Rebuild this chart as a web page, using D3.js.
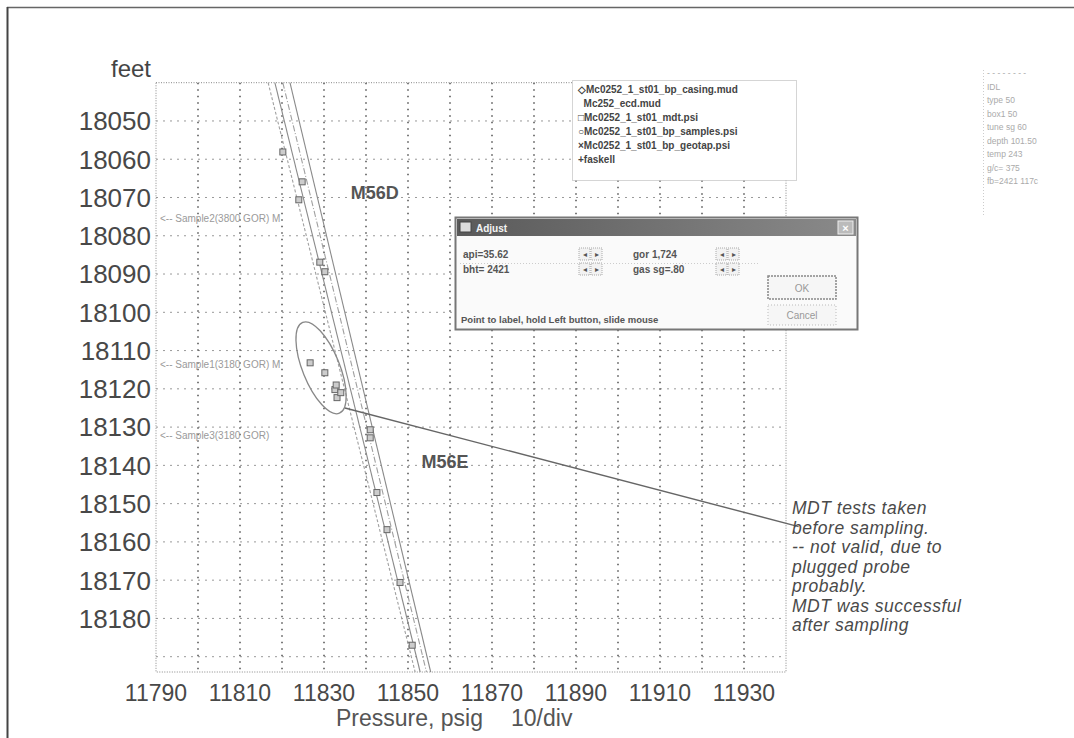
<!DOCTYPE html>
<html>
<head>
<meta charset="utf-8">
<script src="https://cdn.jsdelivr.net/npm/d3@7"></script>
<style>
  body { margin: 0; background: #fff; }
  svg { display: block; font-family: "Liberation Sans", Arial, sans-serif; }
</style>
</head>
<body>
<div id="chart-container"></div>
<script>
// Configuration
const width = 1074;
const height = 738;

// --- Data ---
const xTicks = [11790, 11810, 11830, 11850, 11870, 11890, 11910, 11930];
const yTicks = [18050, 18060, 18070, 18080, 18090, 18100, 18110, 18120, 18130, 18140, 18150, 18160, 18170, 18180];

// gradient lines: pressure at top (18040 ft) and bottom (18194 ft)
const gradTop = [11816.7, 11818.3, 11820.2, 11821.9];
const gradBottom = [11851.7, 11852.9, 11854.4, 11855.4];
const gradDepths = [18040, 18194];

// MDT pressure points
const mdtPressure = [11820.2, 11824.8, 11824.0, 11829.0, 11830.2, 11826.7, 11830.2, 11832.6, 11833.1, 11832.9, 11834.0, 11841.0, 11841.0, 11842.6, 11845.0, 11848.1, 11851.0];
const mdtDepth = [18058.1, 18065.9, 18070.6, 18086.9, 18089.4, 18113.2, 18115.8, 18120.2, 18122.3, 18119.0, 18121.0, 18130.7, 18132.8, 18147.1, 18156.8, 18170.6, 18187.0];

// samples
const sampleLabels = ["<-- Sample2(3800 GOR) M", "<-- Sample1(3180 GOR) M", "<-- Sample3(3180 GOR)"];
const sampleDepth = [18075.4, 18113.7, 18132.2];

// formation labels
const zoneNames = ["M56D", "M56E"];
const zonePressure = [11842.1, 11858.8];
const zoneDepth = [18068.6, 18139.0];

// ellipse around sample 1 points (centre, half-widths in psi / ft)
const ellipseCentre = [11829.3, 18114.5];
const ellipseHalf = [4.4, 12.8];

// annotation leader
const leaderPressure = [11835.0, 11943.0];
const leaderDepth = [18125.0, 18156.0];

const noteLines = ["MDT tests taken", "before sampling.", "-- not valid, due to", "plugged probe", "probably.", "MDT was successful", "after sampling"];

const legendItems = ["\u25C7Mc0252_1_st01_bp_casing.mud", "  Mc252_ecd.mud", "\u25A1Mc0252_1_st01_mdt.psi", "\u25CBMc0252_1_st01_bp_samples.psi", "\u00D7Mc0252_1_st01_bp_geotap.psi", "+faskell"];

const sideText = ["- - - - - - - -", "IDL", "type 50", "box1 50", "tune sg 60", "depth 101.50", "temp 243", "g/c= 375", "fb=2421 117c"];

// dialog fields
const dialogFields = [["api=35.62", "gor 1,724"], ["bht= 2421", "gas sg=.80"]];

const svg = d3.select("#chart-container")
    .append("svg")
    .attr("width", width)
    .attr("height", height);

const x = d3.scaleLinear().domain([11790, 11940]).range([156, 786]);
const y = d3.scaleLinear().domain([18040, 18194]).range([82.7, 672]);

// outer frame
svg.append("line").attr("x1", 7).attr("x2", width).attr("y1", 7.5).attr("y2", 7.5)
    .attr("stroke", "#666").attr("stroke-width", 1.5);
svg.append("line").attr("x1", 7.5).attr("x2", 7.5).attr("y1", 7).attr("y2", height)
    .attr("stroke", "#444").attr("stroke-width", 2);

const g = svg.append("g");

// --- grid ---
const xGrid = d3.range(11800, 11940, 10);
const yGrid = d3.range(18050, 18194, 10);

g.append("g").selectAll("line").data(yGrid).join("line")
    .attr("x1", x(11790)).attr("x2", x(11940))
    .attr("y1", d => y(d)).attr("y2", d => y(d))
    .attr("stroke", "#999").attr("stroke-width", 1)
    .attr("stroke-dasharray", "2,5");

g.append("g").selectAll("line").data(xGrid).join("line")
    .attr("x1", d => x(d)).attr("x2", d => x(d))
    .attr("y1", y(18040)).attr("y2", y(18194))
    .attr("stroke", "#444").attr("stroke-width", 1.4)
    .attr("stroke-dasharray", "1.5,5");

// plot border
g.append("rect")
    .attr("x", x(11790)).attr("y", y(18040))
    .attr("width", x(11940) - x(11790)).attr("height", y(18194) - y(18040))
    .attr("fill", "none").attr("stroke", "#888").attr("stroke-width", 1)
    .attr("stroke-dasharray", "1,1.5");

// --- axes labels ---
g.append("g").selectAll("text").data(yTicks).join("text")
    .attr("x", 151).attr("y", d => y(d))
    .attr("dy", "0.36em")
    .attr("text-anchor", "end")
    .attr("font-size", 26)
    .attr("fill", "#484848")
    .text(d => d);

g.append("g").selectAll("text").data(xTicks).join("text")
    .attr("x", d => x(d)).attr("y", 701)
    .attr("text-anchor", "middle")
    .attr("font-size", 23)
    .attr("fill", "#484848")
    .text(d => d);

svg.append("text").attr("x", 151).attr("y", 77).attr("text-anchor", "end")
    .attr("font-size", 24).attr("fill", "#444").text("feet");

svg.append("text").attr("x", 336).attr("y", 726)
    .attr("font-size", 23).attr("fill", "#555")
    .text("Pressure, psig")
    .append("tspan").attr("dx", 28).text("10/div");

// --- gradient lines ---
const gradStyles = ["3,2", null, "6,2,1,2", null];
gradTop.forEach((p, i) => {
    g.append("line")
        .attr("x1", x(p)).attr("y1", y(gradDepths[0]))
        .attr("x2", x(gradBottom[i])).attr("y2", y(gradDepths[1]))
        .attr("stroke", i % 2 ? "#8a8a8a" : "#a0a0a0")
        .attr("stroke-width", 1.1)
        .attr("stroke-dasharray", gradStyles[i]);
});

// ellipse
g.append("ellipse")
    .attr("cx", x(ellipseCentre[0])).attr("cy", y(ellipseCentre[1]))
    .attr("rx", x(ellipseCentre[0] + ellipseHalf[0]) - x(ellipseCentre[0]))
    .attr("ry", y(ellipseCentre[1] + ellipseHalf[1]) - y(ellipseCentre[1]))
    .attr("transform", `rotate(-22 ${x(ellipseCentre[0])} ${y(ellipseCentre[1])})`)
    .attr("fill", "none").attr("stroke", "#888").attr("stroke-width", 1.3);

// MDT points
g.append("g").selectAll("rect").data(mdtPressure).join("rect")
    .attr("x", (d, i) => x(d) - 3).attr("y", (d, i) => y(mdtDepth[i]) - 3)
    .attr("width", 6).attr("height", 6)
    .attr("fill", "#ccc").attr("stroke", "#666").attr("stroke-width", 1);

// leader line
g.append("line")
    .attr("x1", x(leaderPressure[0])).attr("y1", y(leaderDepth[0]))
    .attr("x2", x(leaderPressure[1])).attr("y2", y(leaderDepth[1]))
    .attr("stroke", "#666").attr("stroke-width", 1.4);

// sample labels
g.append("g").selectAll("text").data(sampleLabels).join("text")
    .attr("x", x(11790) + 4).attr("y", (d, i) => y(sampleDepth[i]))
    .attr("dy", "0.35em")
    .attr("font-size", 10).attr("fill", "#9a9a9a")
    .text(d => d);

// formation labels
g.append("g").selectAll("text").data(zoneNames).join("text")
    .attr("x", (d, i) => x(zonePressure[i])).attr("y", (d, i) => y(zoneDepth[i]))
    .attr("dy", "0.36em").attr("text-anchor", "middle")
    .attr("font-size", 18).attr("font-weight", "bold").attr("fill", "#555")
    .text(d => d);

// note text
g.append("g").selectAll("text").data(noteLines).join("text")
    .attr("x", 792).attr("y", (d, i) => 514 + i * 19.5)
    .attr("font-size", 17.5).attr("font-style", "italic").attr("fill", "#4a4a4a")
    .attr("letter-spacing", 0.5)
    .text(d => d);

// legend box
const lg = svg.append("g");
lg.append("rect").attr("x", 572.5).attr("y", 80.5).attr("width", 224).attr("height", 100)
    .attr("fill", "#fff").attr("stroke", "#aaa").attr("stroke-dasharray", "1,1");
lg.selectAll("text").data(legendItems).join("text")
    .attr("x", 578).attr("y", (d, i) => 93 + i * 14)
    .attr("font-size", 10).attr("font-weight", "bold").attr("fill", "#444")
    .attr("xml:space", "preserve")
    .text(d => d);

// side text
svg.append("line").attr("x1", 983.5).attr("x2", 983.5).attr("y1", 70).attr("y2", 215)
    .attr("stroke", "#ccc").attr("stroke-dasharray", "1,2");
svg.append("g").selectAll("text").data(sideText).join("text")
    .attr("x", 987).attr("y", (d, i) => 76 + i * 13.5)
    .attr("font-size", 8.5).attr("fill", "#aaa")
    .text(d => d);

// --- dialog ---
const dlg = svg.append("g");
dlg.append("rect").attr("x", 455.5).attr("y", 217.5).attr("width", 402).attr("height", 112)
    .attr("fill", "#fafafa").attr("stroke", "#777").attr("stroke-width", 2);
const grad = svg.append("defs").append("linearGradient").attr("id", "tb");
grad.append("stop").attr("offset", 0).attr("stop-color", "#5a5a5a");
grad.append("stop").attr("offset", 1).attr("stop-color", "#8a8a8a");
dlg.append("rect").attr("x", 457).attr("y", 219).attr("width", 399).attr("height", 17)
    .attr("fill", "url(#tb)");
dlg.append("rect").attr("x", 460).attr("y", 222).attr("width", 11).attr("height", 10)
    .attr("fill", "#ddd").attr("stroke", "#444");
dlg.append("text").attr("x", 476).attr("y", 232).attr("font-size", 10).attr("font-weight", "bold")
    .attr("fill", "#f4f4f4").text("Adjust");
dlg.append("rect").attr("x", 838).attr("y", 221).attr("width", 15).attr("height", 13)
    .attr("fill", "#bbb").attr("stroke", "#eee");
dlg.append("text").attr("x", 845.5).attr("y", 231.5).attr("text-anchor", "middle")
    .attr("font-size", 11).attr("font-weight", "bold").attr("fill", "#fff").text("\u00D7");

dialogFields.forEach((row, r) => {
    row.forEach((label, c) => {
        const fx = c === 0 ? 463 : 633;
        const bx = c === 0 ? 579 : 716;
        const fy = 258 + r * 15;
        dlg.append("text").attr("x", fx).attr("y", fy).attr("font-size", 10)
            .attr("font-weight", "bold").attr("fill", "#555").text(label);
        [0, 1].forEach(k => {
            dlg.append("rect").attr("x", bx + k * 12).attr("y", fy - 10).attr("width", 11).attr("height", 12)
                .attr("fill", "#f2f2f2").attr("stroke", "#aaa").attr("stroke-dasharray", "1,1");
            dlg.append("text").attr("x", bx + k * 12 + 5.5).attr("y", fy - 1).attr("text-anchor", "middle")
                .attr("font-size", 8).attr("fill", "#555").text(k ? "\u25B8" : "\u25C2");
        });
    });
});
dlg.append("line").attr("x1", 460).attr("x2", 760).attr("y1", 263.5).attr("y2", 263.5)
    .attr("stroke", "#ccc").attr("stroke-dasharray", "1,2");

dlg.append("rect").attr("x", 768).attr("y", 276).attr("width", 68).attr("height", 23)
    .attr("fill", "#f6f6f6").attr("stroke", "#888").attr("stroke-width", 1.5).attr("stroke-dasharray", "2,1");
dlg.append("text").attr("x", 802).attr("y", 292).attr("text-anchor", "middle").attr("font-size", 10)
    .attr("fill", "#999").text("OK");
dlg.append("rect").attr("x", 768).attr("y", 305).attr("width", 68).attr("height", 20)
    .attr("fill", "#f6f6f6").attr("stroke", "#bbb").attr("stroke-dasharray", "1,2");
dlg.append("text").attr("x", 802).attr("y", 319).attr("text-anchor", "middle").attr("font-size", 10)
    .attr("fill", "#999").text("Cancel");
dlg.append("text").attr("x", 461).attr("y", 323).attr("font-size", 9.5).attr("font-weight", "bold")
    .attr("fill", "#555").text("Point to label, hold Left button, slide mouse");
</script>
</body>
</html>
